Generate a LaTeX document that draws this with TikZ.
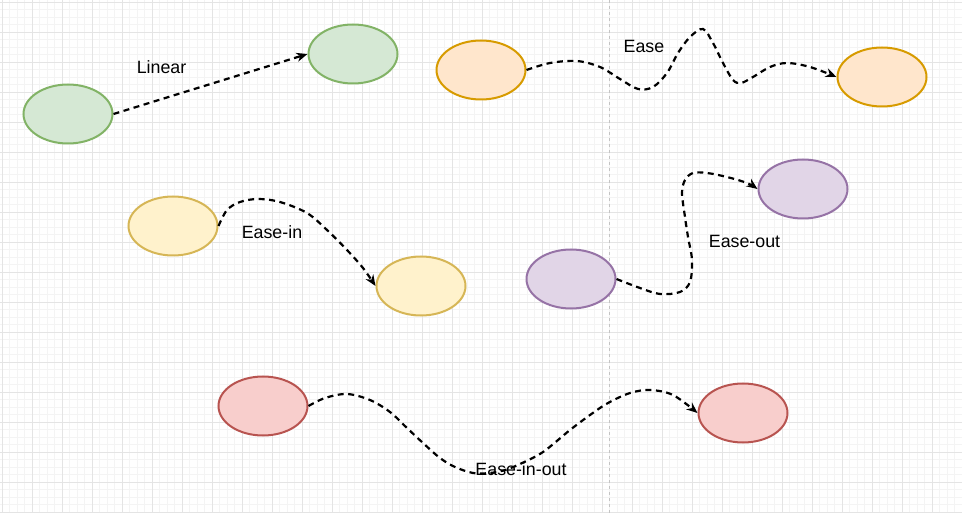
\documentclass[tikz,border=0pt]{standalone}
\usepackage{fontspec}
\setmainfont{Liberation Sans}
\usetikzlibrary{arrows.meta,shapes.geometric}
\definecolor{gridminor}{HTML}{F4F4F4}
\definecolor{gridmajor}{HTML}{E4E4E4}
\definecolor{pagebreak}{HTML}{C4C4C4}
\definecolor{gfill}{HTML}{D5E8D4}\definecolor{gline}{HTML}{82B366}
\definecolor{ofill}{HTML}{FFE6CC}\definecolor{oline}{HTML}{D79B00}
\definecolor{yfill}{HTML}{FFF2CC}\definecolor{yline}{HTML}{D6B656}
\definecolor{pfill}{HTML}{E1D5E7}\definecolor{pline}{HTML}{9673A6}
\definecolor{rfill}{HTML}{F8CECC}\definecolor{rline}{HTML}{B85450}
\tikzset{
  blob/.style={ellipse, minimum width=89pt, minimum height=59pt, inner sep=0pt, line width=2pt},
  gblob/.style={blob, draw=gline, fill=gfill},
  oblob/.style={blob, draw=oline, fill=ofill},
  yblob/.style={blob, draw=yline, fill=yfill},
  pblob/.style={blob, draw=pline, fill=pfill},
  rblob/.style={blob, draw=rline, fill=rfill},
  motion/.style={line width=2.2pt, dash pattern=on 6pt off 4.5pt, line cap=butt,
    -{Stealth[length=11pt,width=9pt,inset=3.5pt]}},
  lbl/.style={anchor=base, inner sep=0pt, font=\fontsize{17.8}{20}\selectfont}
}
\begin{document}
\begin{tikzpicture}[x=1pt,y=-1pt]
\useasboundingbox (0,0) rectangle (962,513);
\fill[white] (0,0) rectangle (962,513);
% grid
\foreach \i in {0,...,128} {
  \draw[gridminor, line width=0.6pt] ({2+7.5*\i},0) -- ({2+7.5*\i},513);
  \draw[gridminor, line width=0.6pt] (0,{2+7.5*\i}) -- (962,{2+7.5*\i});
}
\foreach \i in {0,...,32} {
  \draw[gridmajor, line width=0.7pt] ({2+30*\i},0) -- ({2+30*\i},513);
  \draw[gridmajor, line width=0.7pt] (0,{2+30*\i}) -- (962,{2+30*\i});
}
\draw[pagebreak, line width=0.8pt, dash pattern=on 3pt off 3pt] (609,0) -- (609,513);

% nodes
\node[gblob] (g1) at (68,114) {};
\node[gblob] (g2) at (353,54) {};
\node[oblob] (o1) at (481,70) {};
\node[oblob] (o2) at (882,77) {};
\node[yblob] (y1) at (173,226) {};
\node[yblob] (y2) at (421,286) {};
\node[pblob] (p1) at (571,279) {};
\node[pblob] (p2) at (803,189) {};
\node[rblob] (r1) at (263,406) {};
\node[rblob] (r2) at (743,413) {};

% connectors
\draw[motion] (g1.east) -- (g2.west);
\draw[motion] plot[smooth, tension=0.55] coordinates {(o1.east) (550,63) (577,61) (600,67) (620,79) (638,89) (653,87) (667,73) (678,53) (690,37) (703,29) (713,43) (723,63) (733,80) (741,83) (753,77) (770,67) (787,63) (810,67) (o2.west)};
\draw[motion] plot[smooth, tension=0.55] coordinates {(y1.east) (227,210) (240,202) (258,199) (280,202) (307,213) (327,230) (347,250) (363,268) (y2.west)};
\draw[motion] plot[smooth, tension=0.55] coordinates {(p1.east) (640,288) (660,294) (680,292) (690,282) (692,260) (688,237) (685,217) (682,193) (685,180) (693,173) (707,173) (727,177) (747,183) (p2.west)};
\draw[motion] plot[smooth, tension=0.55] coordinates {(r1.east) (325,398) (347,394) (370,400) (390,412) (407,428) (423,443) (440,458) (455,467) (473,473) (490,473) (505,470) (520,464) (543,452) (570,430) (590,415) (608,403) (630,393) (650,390) (673,395) (r2.west)};

% labels
\node[lbl] (tl) at (161.5,74) {Linear};
\node[lbl] (te) at (644,53) {Ease};
\node[lbl] (ti) at (272,239) {Ease-in};
\node[lbl] (to) at (744.5,248) {Ease-out};
\node[lbl] (tio) at (521,475) {Ease-in-out};
\end{tikzpicture}
\end{document}
